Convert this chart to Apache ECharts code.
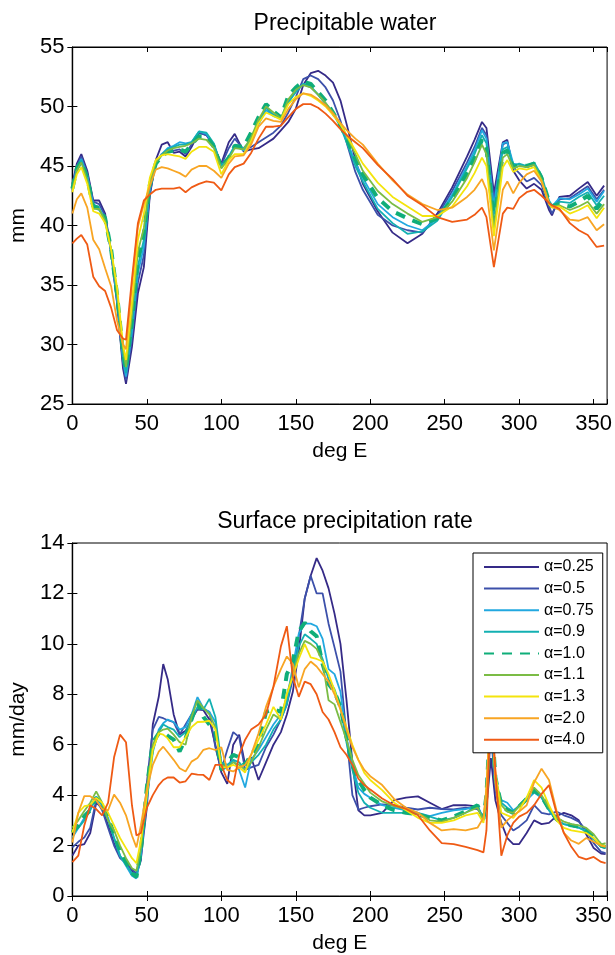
<!DOCTYPE html>
<html>
<head>
<meta charset="utf-8">
<script src="https://cdn.jsdelivr.net/npm/echarts@6/dist/echarts.min.js"></script>
<style>
  html, body { margin: 0; padding: 0; background: #fff; }
  #chart { width: 615px; height: 955px; }
</style>
</head>
<body>
<div id="chart"></div>
<script>
// legend names / colours
var alphaNames = ['α=0.25', 'α=0.5', 'α=0.75', 'α=0.9', 'α=1.0', 'α=1.1', 'α=1.3', 'α=2.0', 'α=4.0'];
var lineColors = ['#352a87', '#3c50aa', '#22a8e0', '#13b0b2', '#0fae79', '#7bbc45', '#f4e40c', '#f8a523', '#ef5a14'];

// precipitable water (mm) vs longitude
var pwLon = [0, 3, 6, 10, 14, 18, 22, 26, 30, 34, 36,
  40, 44, 48, 52, 56, 60, 64, 68, 72, 76, 80,
  85, 90, 95, 100, 105, 109, 115,
  120, 125, 130, 135, 140, 145, 150, 155, 160, 165, 170, 175, 180, 185, 190, 195,
  205, 215, 225, 235, 245, 255, 265,
  270, 275, 278, 283, 289, 292, 296, 300,
  305, 310, 315, 320, 322, 327, 334, 340, 346, 352, 357];
var pw025 = [43.5, 45.2, 46.0, 44.6, 42.1, 42.1, 41.0, 37.8, 33.5, 28.0, 26.7,
  29.8, 34.3, 36.5, 42.5, 45.5, 46.8, 47.0, 46.1, 46.2, 45.8, 46.6,
  47.8, 47.6, 46.7, 45.2, 47.0, 47.7, 46.2,
  46.4, 46.5, 46.9, 47.3, 48.0, 48.7, 49.8, 51.8, 52.8, 53.0, 52.6, 52.0, 50.5, 48.1, 45.5, 43.5,
  41.2, 39.4, 38.5, 39.3, 41.0, 43.2, 45.8,
  47.2, 48.7, 48.2, 42.7, 47.0, 47.2, 44.6, 43.8,
  43.1, 43.5, 43.0, 41.3, 40.85, 42.4, 42.5, 43.1, 43.65, 42.5, 43.35];
var pw05 = [43.3, 45.0, 45.8, 44.4, 42.0, 41.8, 40.8, 37.7, 33.6, 28.4, 27.0,
  30.5, 35.2, 37.5, 42.7, 45.2, 46.0, 46.4, 46.3, 46.4, 46.0, 46.8,
  47.8, 47.6, 46.7, 45.1, 46.5, 47.3, 46.4,
  46.6, 47.0, 47.4, 47.8, 48.4, 49.5, 50.8, 52.3, 52.6, 52.3, 51.6, 50.5, 48.8, 46.6, 44.5, 43.0,
  40.9, 40.0, 39.6, 39.4, 40.8, 42.9, 45.3,
  46.6, 48.2, 47.6, 42.2, 46.8, 47.0, 44.9, 44.4,
  43.7, 44.0, 43.4, 41.6, 41.0, 42.2, 42.3, 42.8, 43.3, 42.2, 43.0];
var pw075 = [43.2, 44.9, 45.6, 44.2, 41.8, 41.5, 40.6, 37.8, 33.8, 28.7, 27.3,
  31.0, 36.0, 38.2, 43.0, 45.2, 46.0, 46.5, 46.7, 47.0, 46.9, 47.0,
  47.9, 47.7, 46.8, 45.0, 45.8, 46.7, 46.3,
  47.0, 48.5, 49.7, 49.2, 49.0, 50.3, 51.3, 51.9, 51.6, 51.0, 50.3, 49.5, 48.4, 46.9, 45.3, 44.0,
  41.8, 40.7, 40.0, 39.6, 40.6, 42.6, 45.0,
  46.3, 48.0, 47.3, 41.6, 46.9, 47.0, 45.2, 45.1,
  44.9, 45.1, 44.0, 42.0, 41.6, 42.3, 42.2, 42.6, 43.1, 42.0, 42.9];
var pw09 = [43.0, 44.7, 45.5, 44.0, 41.5, 41.3, 40.5, 37.9, 34.0, 29.0, 27.6,
  31.5, 36.6, 38.8, 43.2, 45.2, 45.9, 46.4, 46.6, 46.8, 46.8, 47.0,
  47.9, 47.8, 46.9, 45.0, 45.7, 46.7, 46.5,
  47.2, 48.7, 49.9, 49.3, 49.0, 50.4, 51.2, 51.9, 51.7, 51.0, 50.2, 49.4, 48.3, 46.7, 45.0, 43.7,
  41.4, 40.2, 39.3, 39.5, 40.4, 42.4, 44.8,
  46.0, 47.6, 46.9, 40.9, 46.4, 46.6, 45.0, 45.2,
  45.0, 45.3, 44.2, 42.1, 41.7, 42.0, 41.9, 42.4, 42.8, 41.7, 42.5];
var pw10 = [43.1, 44.8, 45.4, 44.0, 41.6, 41.5, 40.6, 38.0, 34.2, 29.3, 27.9,
  32.0, 37.2, 39.3, 43.4, 45.2, 45.8, 46.2, 46.3, 46.4, 46.2, 46.8,
  47.5, 47.5, 46.6, 44.9, 45.7, 46.7, 46.6,
  47.8, 49.1, 50.2, 49.6, 49.1, 50.9, 51.6, 52.1, 51.9, 51.2, 50.5, 49.5, 48.4, 47.1, 45.6, 44.3,
  42.3, 41.2, 40.6, 40.1, 40.6, 42.2, 44.4,
  45.6, 47.2, 46.5, 40.3, 46.1, 46.3, 44.9, 45.1,
  45.0, 45.2, 44.0, 42.0, 41.6, 41.8, 41.6, 42.0, 42.5, 41.4, 42.2];
var pw11 = [43.0, 44.6, 45.3, 43.8, 41.4, 41.4, 40.4, 38.0, 34.4, 29.6, 28.1,
  32.5, 37.8, 39.8, 43.6, 45.3, 45.9, 46.3, 46.5, 46.6, 46.7, 46.9,
  47.3, 47.2, 46.5, 44.8, 45.6, 46.5, 46.4,
  47.4, 48.9, 50.0, 49.5, 49.0, 50.6, 51.4, 51.8, 51.6, 51.0, 50.3, 49.5, 48.5, 47.3, 46.0, 44.6,
  42.9, 41.8, 41.0, 40.3, 40.7, 42.0, 44.0,
  45.3, 46.8, 46.0, 39.8, 45.7, 46.0, 44.8, 45.0,
  44.9, 45.1, 43.9, 41.9, 41.6, 41.7, 41.3, 41.6, 42.0, 41.0, 41.8];
var pw13 = [42.8, 44.3, 44.9, 43.5, 41.2, 41.0, 40.2, 38.0, 34.8, 30.0, 28.7,
  33.5, 38.8, 41.0, 44.0, 45.5, 45.9, 46.0, 45.9, 45.8, 45.6, 46.2,
  46.6, 46.6, 46.2, 44.3, 45.5, 46.0, 46.0,
  47.1, 48.6, 49.5, 49.2, 48.9, 50.2, 50.8, 51.1, 50.9, 50.5, 50.0, 49.3, 48.5, 47.4, 46.3, 45.2,
  43.6, 42.4, 41.6, 40.8, 40.8, 41.6, 43.3,
  44.4, 45.7, 45.0, 39.1, 44.9, 45.5, 44.5, 44.8,
  44.7, 44.9, 43.7, 41.8, 41.5, 41.6, 41.0, 41.3, 41.7, 40.6, 41.5];
var pw20 = [41.0, 42.2, 42.7, 41.5, 38.8, 38.0, 36.4, 34.9, 32.0, 30.0, 29.6,
  35.0, 39.9, 41.8, 43.3, 44.7, 44.9, 44.8, 44.6, 44.4, 44.1, 44.7,
  45.0, 45.0, 44.6, 44.0, 45.2, 45.8, 45.9,
  46.8, 48.3, 49.0, 48.8, 48.7, 49.8, 50.6, 51.1, 51.0, 50.6, 50.1, 49.4, 48.6, 47.9, 47.3, 46.8,
  45.2, 43.8, 42.6, 41.8, 41.3, 41.5, 42.4,
  43.0, 43.9, 43.0, 37.9, 43.0, 43.7, 42.7, 43.6,
  44.3, 44.6, 43.7, 41.9, 41.6, 41.3, 40.5, 40.4, 40.7, 39.6, 40.1];
var pw40 = [38.5, 38.9, 39.2, 38.4, 35.7, 34.9, 34.5, 33.1, 31.2, 30.5, 30.4,
  35.5, 40.2, 42.1, 42.6, 43.0, 43.1, 43.1, 43.1, 43.2, 42.8, 43.2,
  43.5, 43.7, 43.6, 42.95, 44.3, 44.9, 45.2,
  46.1, 47.3, 48.3, 48.3, 48.4, 49.1, 49.8, 50.2, 50.2, 49.9, 49.4, 48.8, 48.1, 47.5, 47.0, 46.5,
  45.1, 43.9, 42.5, 41.7, 40.7, 40.3, 40.5,
  40.9, 41.5, 40.7, 36.5, 41.0, 41.5, 41.4, 42.3,
  42.8, 43.0, 42.5, 41.9, 41.7, 41.4, 40.2, 39.6, 39.2, 38.2, 38.3];

// surface precipitation rate (mm/day) vs longitude
var prLon = [0, 4, 8, 12, 16, 20, 24, 28, 32, 36, 40, 43, 46, 50, 54, 58, 61, 64,
  68, 72, 76, 80, 84, 88, 92, 96, 100, 104, 108, 112, 116, 120, 125, 130, 135, 140,
  144, 148, 152, 156, 160, 164, 168, 172, 176, 180, 184, 188, 192, 196, 200,
  208, 216, 224, 232, 240, 248, 256, 264, 272,
  276, 278, 281, 284, 288, 292, 296, 300,
  305, 310, 315, 320, 325, 330, 335, 340, 345, 350, 355, 358];
var pr025 = [1.6, 2.0, 2.06, 2.5, 3.7, 3.5, 2.8, 2.1, 1.55, 1.35, 1.0, 0.8, 1.5, 3.5, 6.8, 7.9, 9.2, 8.6,
  7.2, 6.4, 6.55, 7.0, 7.4, 7.37, 7.0, 6.0, 4.9, 4.45, 6.0, 6.4, 5.2, 5.5, 4.6, 5.3, 6.0, 6.5,
  7.2, 8.1, 9.7, 11.8, 12.7, 13.4, 12.9, 12.2, 11.2, 10.0, 7.8, 5.3, 3.4, 3.2, 3.2,
  3.3, 3.8, 3.9, 3.95, 3.7, 3.45, 3.6, 3.6, 3.55,
  3.04, 3.5, 5.47, 3.8, 2.9, 2.3, 2.06, 2.06,
  2.5, 3.0, 2.85, 2.9, 3.17, 3.3, 3.2, 3.0, 2.45, 1.9, 1.68, 1.66];
var pr05 = [1.93, 2.15, 2.32, 2.71, 3.8, 3.4, 2.7, 2.0, 1.5, 1.3, 1.05, 0.9, 1.4, 4.5, 6.6, 7.1, 7.05, 6.97,
  6.9, 6.4, 6.8, 7.2, 7.4, 7.4, 7.3, 5.9, 5.0, 5.8, 6.5, 6.3, 5.0, 5.1, 5.2, 5.9, 6.4, 7.0,
  7.6, 8.6, 10.3, 11.8, 12.7, 12.0, 12.0, 10.8, 9.86, 8.9, 6.4, 4.0, 3.43, 3.5, 3.56,
  3.63, 3.6, 3.5, 3.43, 3.5, 3.45, 3.43, 3.5, 3.45,
  3.1, 3.6, 6.5, 4.2, 3.2, 2.9, 2.6, 2.75,
  3.0, 3.6, 3.3, 3.24, 3.35, 3.2, 3.1, 2.95, 2.6, 2.1, 1.75, 1.7];
var pr075 = [2.32, 2.7, 3.1, 3.5, 3.95, 3.6, 3.1, 2.3, 1.6, 1.2, 0.8, 0.7, 1.6, 3.8, 5.7, 6.6, 6.85, 7.0,
  6.9, 6.6, 6.7, 7.2, 7.89, 7.45, 7.3, 6.9, 5.0, 5.1, 5.4, 5.0, 4.3, 5.4, 5.8, 6.3, 6.8, 7.2,
  7.8, 9.1, 10.4, 10.8, 10.8, 10.7, 10.2, 9.0, 8.8, 8.1, 6.3, 5.2, 4.3, 4.05, 3.9,
  3.6, 3.5, 3.4, 3.3, 3.17, 3.3, 3.4, 3.45, 3.56,
  3.1, 3.8, 7.2, 4.5, 3.8, 3.7, 3.4, 3.55,
  3.8, 4.1, 3.9, 3.4, 3.0, 2.85, 2.78, 2.7, 2.6, 2.3, 1.95, 1.9];
var pr09 = [2.58, 2.7, 3.0, 3.4, 3.89, 3.6, 3.0, 2.3, 1.6, 1.25, 0.9, 0.75, 1.7, 4.0, 5.8, 6.5, 6.8, 6.7,
  6.6, 6.3, 6.5, 7.0, 7.5, 7.4, 7.82, 7.1, 5.3, 5.2, 5.4, 5.3, 5.0, 5.3, 5.6, 6.0, 6.6, 7.0,
  7.6, 8.9, 9.9, 10.38, 10.2, 10.0, 9.4, 8.6, 8.2, 7.5, 6.1, 5.0, 4.1, 3.7, 3.5,
  3.3, 3.3, 3.3, 3.25, 3.15, 3.0, 3.1, 3.3, 3.6,
  3.0, 3.9, 7.3, 4.6, 3.7, 3.5, 3.35, 3.6,
  3.9, 4.25, 3.9, 3.4, 3.0, 2.85, 2.78, 2.72, 2.55, 2.25, 1.95, 1.9];
var pr10 = [2.52, 2.8, 3.17, 3.4, 3.89, 3.6, 3.1, 2.45, 1.8, 1.35, 0.9, 0.75, 1.8, 4.3, 6.1, 6.45, 6.5, 6.35,
  6.2, 5.73, 6.25, 7.0, 7.69, 7.1, 6.8, 6.5, 5.0, 5.3, 5.6, 5.5, 5.2, 5.6, 6.0, 7.3, 7.4, 7.3,
  8.8, 9.3, 10.5, 10.84, 10.5, 10.3, 9.2, 8.41, 8.1, 7.5, 6.3, 5.2, 4.6, 4.2, 3.9,
  3.6, 3.4, 3.3, 3.24, 3.1, 3.0, 3.15, 3.35, 3.6,
  3.05, 4.0, 7.4, 4.7, 3.6, 3.4, 3.3, 3.55,
  3.85, 4.2, 3.95, 3.45, 3.05, 2.9, 2.8, 2.75, 2.6, 2.35, 2.0, 1.95];
var pr11 = [2.71, 3.0, 3.37, 3.7, 4.15, 3.7, 3.0, 2.6, 2.0, 1.5, 1.1, 1.0, 1.9, 4.3, 6.0, 6.5, 6.6, 6.64,
  6.4, 6.1, 6.0, 7.1, 7.76, 7.45, 7.2, 6.7, 5.2, 5.1, 5.3, 5.2, 5.0, 5.3, 5.9, 6.6, 7.2, 7.0,
  8.0, 8.8, 9.6, 10.12, 10.0, 9.8, 9.3, 7.76, 7.6, 6.9, 6.2, 5.4, 4.8, 4.45, 4.1,
  3.75, 3.56, 3.45, 3.3, 3.0, 2.95, 3.1, 3.3, 3.5,
  3.0, 4.1, 7.5, 4.8, 3.6, 3.35, 3.3, 3.55,
  3.85, 4.3, 4.0, 3.5, 3.1, 2.95, 2.85, 2.8, 2.7, 2.45, 2.05, 2.1];
var pr13 = [2.52, 3.3, 3.56, 3.6, 3.89, 3.7, 3.3, 2.8, 2.3, 1.9, 1.5, 1.3, 2.2, 4.0, 5.8, 6.45, 6.4, 6.25,
  5.9, 5.9, 6.3, 6.7, 6.9, 6.91, 6.95, 6.6, 5.1, 5.1, 5.2, 5.1, 4.9, 5.6, 6.2, 6.8, 7.5, 7.0,
  8.0, 8.7, 9.4, 9.99, 9.46, 9.4, 9.3, 8.8, 8.15, 7.4, 6.7, 6.0, 5.4, 4.88, 4.6,
  4.2, 3.7, 3.4, 3.1, 2.9, 2.9, 3.0, 3.2, 3.3,
  2.9, 4.2, 7.6, 4.9, 3.3, 3.2, 3.1, 3.4,
  3.9, 4.6, 4.3, 3.6, 3.0, 2.7, 2.6, 2.55, 2.5, 2.3, 2.0, 2.0];
var pr20 = [2.12, 3.3, 3.96, 3.96, 3.8, 3.45, 3.4, 4.02, 3.7, 3.2, 2.4, 1.93, 2.8, 4.2, 5.2, 5.73, 5.92, 5.7,
  5.4, 5.07, 4.94, 5.33, 5.47, 5.8, 5.86, 5.79, 5.9, 5.0, 4.94, 5.1, 5.2, 5.6, 6.45, 7.5, 8.3, 9.0,
  9.5, 9.2, 8.28, 9.0, 9.3, 9.1, 8.8, 8.5, 8.0, 7.4, 6.6, 5.9, 5.4, 5.0, 4.75,
  4.4, 3.85, 3.5, 3.3, 2.9, 2.6, 2.65, 2.6, 2.71,
  3.1, 4.3, 7.7, 4.5, 2.71, 3.0, 3.2, 3.35,
  3.6, 4.5, 5.05, 4.6, 3.4, 2.5, 2.2, 2.07, 2.3, 2.15, 2.0, 1.95];
var pr40 = [1.34, 1.6, 2.8, 3.6, 3.45, 3.2, 3.7, 5.5, 6.4, 6.1, 3.6, 2.4, 2.5, 3.5, 4.0, 4.4, 4.6, 4.7,
  4.7, 4.5, 4.55, 4.85, 4.81, 4.8, 4.6, 5.2, 5.2, 4.6, 4.4, 5.6, 6.2, 6.6, 6.8, 7.2, 8.3, 9.9,
  10.7, 8.7, 7.9, 8.5, 8.4, 8.0, 7.3, 7.0, 6.5, 5.9, 5.6, 5.2, 4.65, 4.4, 4.22,
  3.87, 3.6, 3.45, 3.2, 2.6, 2.1, 2.06, 1.95, 1.82,
  1.73, 2.6, 7.8, 5.0, 1.6, 2.4, 2.9, 3.15,
  3.3, 3.6, 4.05, 4.4, 3.3, 2.5, 1.95, 1.55, 1.45, 1.55, 1.35, 1.3];

var pwSets = [pw025, pw05, pw075, pw09, pw10, pw11, pw13, pw20, pw40];
var prSets = [pr025, pr05, pr075, pr09, pr10, pr11, pr13, pr20, pr40];

var fontName = 'Liberation Sans, Arial, Helvetica, sans-serif';
var tickFont = 22;

function pairs(lon, vals) {
	return lon.map(function (x, i) { return [x, vals[i]]; });
}

function lineStyleFor(i) {
	if (i === 4) {
		return { color: lineColors[i], width: 4, type: [10, 8] };
	}
	return { color: lineColors[i], width: 1.8 };
}

// bottom / top / left / right axes so the plot gets a full box with inward ticks
function xAxes(gridIndex) {
	var base = {
		type: 'value', gridIndex: gridIndex, min: 0, max: 359, interval: 50,
		splitLine: { show: false },
		axisLine: { show: true, lineStyle: { color: '#000', width: 1.2 } },
		axisTick: { show: true, inside: true, length: 5, lineStyle: { color: '#000' } }
	};
	var bottom = echarts.util.merge({
		position: 'bottom',
		name: 'deg E', nameLocation: 'middle', nameGap: 37,
		nameTextStyle: { fontSize: 21, color: '#000', fontFamily: fontName },
		axisLabel: {
			fontSize: tickFont, color: '#000', fontFamily: fontName, margin: 9,
			formatter: function (v) { return v % 50 === 0 ? String(v) : ''; }
		}
	}, base, true);
	var top = echarts.util.merge({ position: 'top', axisLabel: { show: false } }, base, true);
	return [bottom, top];
}

function yAxes(gridIndex, min, max, step, name) {
	var base = {
		type: 'value', gridIndex: gridIndex, min: min, max: max, interval: step,
		splitLine: { show: false },
		axisLine: { show: true, lineStyle: { color: '#000', width: 1.2 } },
		axisTick: { show: true, inside: true, length: 5, lineStyle: { color: '#000' } }
	};
	var left = echarts.util.merge({
		position: 'left',
		name: name, nameLocation: 'middle', nameGap: 40, nameRotate: 90,
		nameTextStyle: { fontSize: 21, color: '#000', fontFamily: fontName },
		axisLabel: { fontSize: tickFont, color: '#000', fontFamily: fontName, margin: 8 }
	}, base, true);
	var right = echarts.util.merge({ position: 'right', axisLabel: { show: false } }, base, true);
	return [left, right];
}

var series = [];
pwSets.forEach(function (vals, i) {
	series.push({
		name: alphaNames[i], type: 'line', xAxisIndex: 0, yAxisIndex: 0,
		data: pairs(pwLon, vals), showSymbol: false, symbol: 'none',
		lineStyle: lineStyleFor(i), itemStyle: { color: lineColors[i] },
		silent: true, animation: false
	});
});
prSets.forEach(function (vals, i) {
	series.push({
		name: alphaNames[i], type: 'line', xAxisIndex: 2, yAxisIndex: 2,
		data: pairs(prLon, vals), showSymbol: false, symbol: 'none',
		lineStyle: lineStyleFor(i), itemStyle: { color: lineColors[i] },
		silent: true, animation: false
	});
});

var chart = echarts.init(document.getElementById('chart'), null, { renderer: 'canvas' });
chart.setOption({
	backgroundColor: '#fff',
	animation: false,
	title: [{
		text: 'Precipitable water', left: 340, top: 7, textAlign: 'center',
		textStyle: { fontSize: 23, fontWeight: 'normal', color: '#000', fontFamily: fontName }
	}, {
		text: 'Surface precipitation rate', left: 340, top: 505, textAlign: 'center',
		textStyle: { fontSize: 23, fontWeight: 'normal', color: '#000', fontFamily: fontName }
	}],
	grid: [
		{ left: 71, top: 47, width: 538, height: 357, show: true, borderColor: '#000', borderWidth: 1 },
		{ left: 71, top: 543, width: 538, height: 356, show: true, borderColor: '#000', borderWidth: 1 }
	],
	xAxis: xAxes(0).concat(xAxes(1)),
	yAxis: yAxes(0, 25, 55, 5, 'mm').concat(yAxes(1, 0, 14, 2, 'mm/day')),
	legend: {
		data: alphaNames,
		orient: 'vertical', left: 473, top: 553,
		padding: [6, 9, 5, 10],
		itemWidth: 55, itemHeight: 16, itemGap: 5.6,
		backgroundColor: '#fff', borderColor: '#000', borderWidth: 1,
		selectedMode: false,
		// hide the marker symbol, keep only the line sample
		itemStyle: { color: 'rgba(0,0,0,0)', borderWidth: 0, opacity: 0 },
		textStyle: { fontSize: 16, lineHeight: 16, color: '#000', fontFamily: fontName },
		z: 10
	},
	series: series
});
</script>
</body>
</html>
